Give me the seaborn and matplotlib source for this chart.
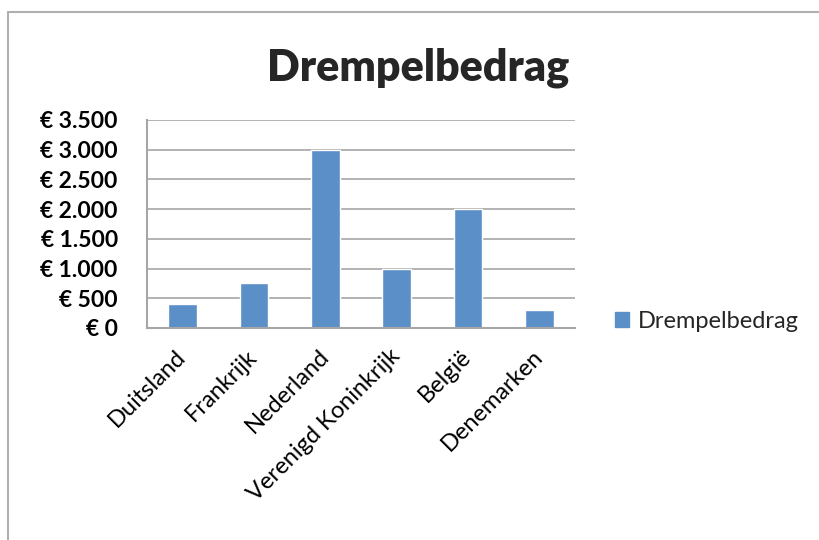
import matplotlib
matplotlib.use("Agg")
import matplotlib.pyplot as plt
import matplotlib.patches as mpatches
from matplotlib.ticker import FuncFormatter, FixedLocator
import pandas as pd
import seaborn as sns

# data
landen = ['Duitsland', 'Frankrijk', 'Nederland', 'Verenigd Koninkrijk', 'België', 'Denemarken']
drempel = [400, 750, 3000, 1000, 2000, 300]
y_ticks = [0, 500, 1000, 1500, 2000, 2500, 3000, 3500]
serie = 'Drempelbedrag'

sns.set_theme(style='white')
plt.rcParams['font.family'] = ['Lato', 'DejaVu Sans']

BLUE = '#5b8fc8'
GRID = '#a6a6a6'

df = pd.DataFrame({'land': landen, 'bedrag': drempel})

fig = plt.figure(figsize=(8.2, 5.4), dpi=100)
ax = fig.add_axes([147 / 820, 1 - 328 / 540, 428 / 820, 208 / 540])

sns.barplot(data=df, x='land', y='bedrag', color=BLUE, width=0.4,
            saturation=1, ax=ax, label=serie)

ax.set_xlim(-0.5, len(landen) - 0.5)
ax.set_ylim(0, 3500)
ax.set_yticks(y_ticks)
ax.yaxis.set_major_formatter(FuncFormatter(lambda v, p: '€ ' + f'{int(v):,}'.replace(',', '.')))
ax.yaxis.grid(True, color=GRID, lw=1.2)
ax.set_axisbelow(True)

for side in ['top', 'right']:
    ax.spines[side].set_visible(False)
for side in ['left', 'bottom']:
    ax.spines[side].set_color(GRID)
    ax.spines[side].set_linewidth(1.5)

ax.tick_params(axis='y', length=6, width=1.2, color=GRID, direction='out',
               pad=15, labelsize=16.5, labelcolor='black')
for lab in ax.get_yticklabels():
    lab.set_fontweight('bold')

# category ticks on the boundaries, labels in the middle
ax.xaxis.set_major_locator(FixedLocator([i - 0.5 for i in range(len(landen) + 1)]))
ax.xaxis.set_major_formatter(FuncFormatter(lambda v, p: ''))
ax.xaxis.set_minor_locator(FixedLocator(list(range(len(landen)))))
ax.set_xticklabels(landen, minor=True)
ax.tick_params(axis='x', which='major', length=6, width=1.2, color=GRID, direction='out')
ax.tick_params(axis='x', which='minor', length=0, pad=18, labelsize=17, labelcolor='black')
for lab in ax.get_xticklabels(minor=True):
    lab.set_rotation(45)
    lab.set_ha('right')
    lab.set_va('center')
    lab.set_rotation_mode('anchor')
ax.set_xlabel('')
ax.set_ylabel('')

fig.text(418 / 820, 1 - 68 / 540, 'Drempelbedrag', ha='center', va='center',
         fontsize=31, fontweight='heavy')

handle = mpatches.Patch(color=BLUE, label=serie)
fig.legend(handles=[handle], loc='center left', bbox_to_anchor=(594 / 820, 1 - 321 / 540),
           frameon=False, fontsize=17, handlelength=0.6, handleheight=0.6, handletextpad=0.35)
if ax.get_legend() is not None:
    ax.get_legend().remove()

# grey frame of the chart object
fig.patches.append(mpatches.Rectangle((8 / 820, -0.05), 1.2, 1 - 12 / 540 + 0.05,
                                      transform=fig.transFigure, fill=False,
                                      edgecolor='#b0b0b0', lw=1.5))

fig.savefig('out.png', dpi=100)
